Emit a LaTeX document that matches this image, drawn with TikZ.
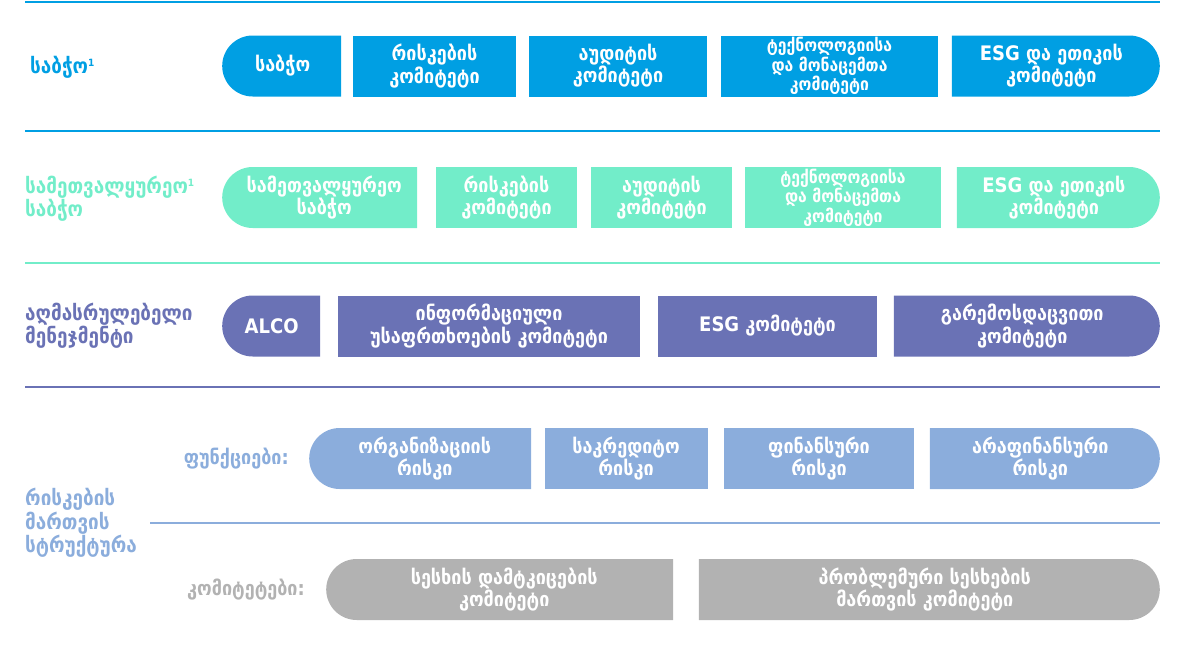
\documentclass[tikz,border=0pt]{standalone}
\usepackage{fontspec}
\setmainfont{DejaVu Sans Condensed}
\usetikzlibrary{shapes.misc}

\definecolor{boardblue}{HTML}{009FE3}
\definecolor{supmint}{HTML}{72EDC9}
\definecolor{execpurple}{HTML}{6A72B5}
\definecolor{riskblue}{HTML}{8BADDC}
\definecolor{comgray}{HTML}{B2B2B2}

\newcommand{\supone}{\raisebox{7pt}{\fontsize{10}{10}\selectfont 1}}

\tikzset{
	box/.style={rectangle, fill=#1, text=white, inner sep=0pt, minimum height=61, align=center, font=\bfseries\fontsize{20}{19.5}\selectfont},
	threeline/.style={font=\bfseries\fontsize{17.5}{17.5}\selectfont},
	leftbox/.style={box=#1, rounded rectangle, rounded rectangle east arc=none, anchor=west},
	rightbox/.style={box=#1, rounded rectangle, rounded rectangle west arc=none, anchor=east},
	rowlabel/.style={text=#1, inner sep=0pt, align=left, anchor=west, font=\bfseries\fontsize{21}{22}\selectfont},
	sublabel/.style={text=#1, inner sep=0pt, anchor=east, font=\bfseries\fontsize{20}{21}\selectfont},
	sepline/.style={draw=#1, line width=2},
}

\begin{document}
\begin{tikzpicture}[x=1pt, y=-1pt]
	\useasboundingbox (0, 0) rectangle (1189, 653);
	% separators
	\draw[sepline=boardblue] (25, 2) -- (1160, 2);
	\draw[sepline=boardblue] (25, 131) -- (1160, 131);
	\draw[sepline=supmint] (25, 263) -- (1160, 263);
	\draw[sepline=execpurple] (25, 387) -- (1160, 387);
	\draw[sepline=riskblue] (150, 523) -- (1160, 523);
	% board
	\node[rowlabel=boardblue] (board) at (30, 67) {საბჭო\supone};
	\node[leftbox=boardblue, minimum width=119] (b1) at (222, 66) {საბჭო};
	\node[box=boardblue, minimum width=163] (b2) at (434.5, 66) {რისკების\\კომიტეტი};
	\node[box=boardblue, minimum width=178] (b3) at (618, 66) {აუდიტის\\კომიტეტი};
	\node[box=boardblue, threeline, minimum width=217] (b4) at (829.5, 66) {ტექნოლოგიისა\\და მონაცემთა\\კომიტეტი};
	\node[rightbox=boardblue, minimum width=208] (b5) at (1160, 66) {ESG და ეთიკის\\კომიტეტი};
	% supervisory board
	\node[rowlabel=supmint] (sup) at (25, 199) {სამეთვალყურეო\supone\\საბჭო};
	\node[leftbox=supmint, minimum width=195] (s1) at (222, 197.5) {სამეთვალყურეო\\საბჭო};
	\node[box=supmint, minimum width=141] (s2) at (506.5, 197.5) {რისკების\\კომიტეტი};
	\node[box=supmint, minimum width=141] (s3) at (661.5, 197.5) {აუდიტის\\კომიტეტი};
	\node[box=supmint, threeline, minimum width=196] (s4) at (843, 197.5) {ტექნოლოგიისა\\და მონაცემთა\\კომიტეტი};
	\node[rightbox=supmint, minimum width=203] (s5) at (1160, 197.5) {ESG და ეთიკის\\კომიტეტი};
	% executive management
	\node[rowlabel=execpurple] (exec) at (25, 326) {აღმასრულებელი\\მენეჯმენტი};
	\node[leftbox=execpurple, minimum width=98] (e1) at (222, 326) {ALCO};
	\node[box=execpurple, minimum width=302] (e2) at (489, 326) {ინფორმაციული\\უსაფრთხოების კომიტეტი};
	\node[box=execpurple, minimum width=219] (e3) at (767.5, 326) {ESG კომიტეტი};
	\node[rightbox=execpurple, minimum width=266] (e4) at (1160, 326) {გარემოსდაცვითი\\კომიტეტი};
	% risk management structure
	\node[rowlabel=riskblue] (risk) at (25, 523) {რისკების\\მართვის\\სტრუქტურა};
	\node[sublabel=riskblue] (func) at (289, 459) {ფუნქციები:};
	\node[leftbox=riskblue, minimum width=222] (f1) at (309, 458.5) {ორგანიზაციის\\რისკი};
	\node[box=riskblue, minimum width=163] (f2) at (626, 458.5) {საკრედიტო\\რისკი};
	\node[box=riskblue, minimum width=190] (f3) at (819, 458.5) {ფინანსური\\რისკი};
	\node[rightbox=riskblue, minimum width=230] (f4) at (1160, 458.5) {არაფინანსური\\რისკი};
	\node[sublabel=comgray] (com) at (305, 590) {კომიტეტები:};
	\node[leftbox=comgray, minimum width=347] (c1) at (326, 589.5) {სესხის დამტკიცების\\კომიტეტი};
	\node[rightbox=comgray, minimum width=461] (c2) at (1160, 589.5) {პრობლემური სესხების\\მართვის კომიტეტი};
\end{tikzpicture}
\end{document}
